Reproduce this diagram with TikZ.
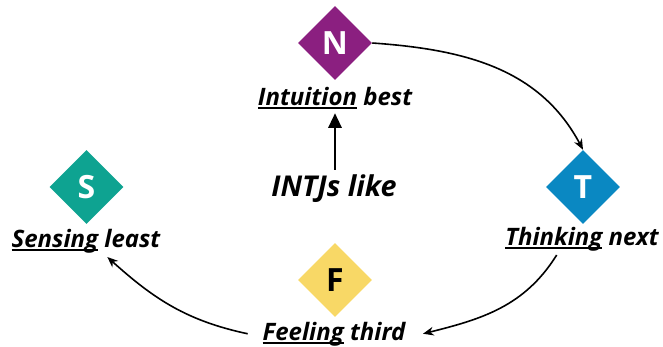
\documentclass[tikz,border=0pt]{standalone}
\usepackage{fontspec}
\setmainfont{Open Sans}
\usetikzlibrary{shapes.geometric,arrows.meta}

\definecolor{npurple}{HTML}{8B1F80}
\definecolor{steal}{HTML}{0EA391}
\definecolor{tblue}{HTML}{0A88C2}
\definecolor{fyellow}{HTML}{F8D866}

% underline the first word of a label
\newcommand{\ulword}[1]{\setbox0\hbox{#1}\rlap{\rule[-3pt]{\wd0}{1.8pt}}\box0\relax}

\tikzset{
  pref/.style={diamond, minimum size=55.5pt, inner sep=0pt,
    font=\fontsize{24}{24}\selectfont\bfseries},
  lbl/.style={anchor=base, inner sep=3pt,
    font=\fontsize{18}{18}\selectfont\bfseries\itshape},
  flow/.style={-{Stealth[length=8pt,width=6.5pt]}, line width=1.2pt}
}

\begin{document}
\begin{tikzpicture}[x=0.75pt, y=-0.75pt]
    \useasboundingbox (0,0) rectangle (663,346);
    % the four preferences
    \node[pref, fill=npurple, text=white] (N) at (335,43) {N};
    \node[pref, fill=tblue, text=white] (T) at (583,187) {T};
    \node[pref, fill=fyellow, text=black] (F) at (335,280) {F};
    \node[pref, fill=steal, text=white] (S) at (86.5,187) {S};
    % labels
    \node[lbl] (intlbl) at (335,105) {\ulword{Intuition} best};
    \node[lbl] (thinklbl) at (582,245) {\ulword{Thinking} next};
    \node[lbl] (feellbl) at (334,340) {\ulword{Feeling} third};
    \node[lbl] (senselbl) at (86,247) {\ulword{Sensing} least};
    \node[lbl, font=\fontsize{21.5}{21.5}\selectfont\bfseries\itshape] (intj) at (334,196) {INTJs like};
    % arrows
    \draw[line width=1.6pt, -{Triangle[length=11pt,width=10pt]}] (intj.north -| intlbl) -- (intlbl.south);
    \draw[flow] (N.east) to[out=-4, in=118] (T.north);
    \draw[flow] ([xshift=-19pt]thinklbl.south) to[out=-122, in=14] ([xshift=10pt]feellbl.east);
    \draw[flow] ([xshift=-8pt]feellbl.west) to[out=168, in=-42] ([xshift=16pt]senselbl.south);
\end{tikzpicture}
\end{document}
